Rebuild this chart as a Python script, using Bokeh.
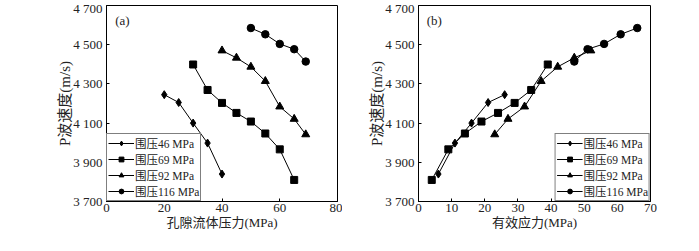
from bokeh.plotting import figure
from bokeh.layouts import row
from bokeh.models import FixedTicker, Range1d, Label, Legend
from bokeh.embed import file_html
from bokeh.resources import INLINE

# ---- data ----
series_names = ["围压46 MPa", "围压69 MPa", "围压92 MPa", "围压116 MPa"]
markers = ["diamond", "square", "triangle", "circle"]
marker_sizes = [8, 7, 8, 7.5]

pore_46 = [20, 25, 30, 35, 40]
vel_46 = [4245, 4205, 4100, 3998, 3840]
eff_46 = [26, 21, 16, 11, 6]

pore_69 = [30, 35, 40, 45, 50, 55, 60, 65]
vel_69 = [4399, 4269, 4203, 4152, 4108, 4047, 3966, 3810]
eff_69 = [39, 34, 29, 24, 19, 14, 9, 4]

pore_92 = [40, 45, 50, 55, 60, 65, 69]
vel_92 = [4470, 4433, 4387, 4314, 4184, 4121, 4042]
eff_92 = [52, 47, 42, 37, 32, 27, 23]

pore_116 = [50, 55, 60, 65, 69]
vel_116 = [4585, 4553, 4504, 4477, 4414]
eff_116 = [66, 61, 56, 51, 47]

y_ticks = [3700, 3900, 4100, 4300, 4500, 4700]
y_tick_labels = {3700: "3 700", 3900: "3 900", 4100: "4 100", 4300: "4 300", 4500: "4 500", 4700: "4 700"}
xa_ticks = [0, 20, 40, 60, 80]
xb_ticks = [0, 10, 20, 30, 40, 50, 60, 70]

FONT = "Liberation Serif, Noto Sans CJK SC"
LATIN = "Liberation Serif"


def make_fig(width, bl, br, xmax, xticks, xlabel, tag, xs_list, legend_loc, tag_x):
    p = figure(width=width, height=235, output_backend="svg", toolbar_location=None,
               x_range=Range1d(0, xmax), y_range=Range1d(3700, 4700),
               min_border_left=bl, min_border_right=br, min_border_top=5, min_border_bottom=34)
    p.xgrid.visible = False
    p.ygrid.visible = False
    p.outline_line_color = "black"
    p.outline_line_width = 1
    p.background_fill_color = "white"
    p.border_fill_color = "white"
    for ax in (p.xaxis[0], p.yaxis[0]):
        ax.axis_line_color = "black"
        ax.major_tick_in = 3
        ax.major_tick_out = 0
        ax.minor_tick_in = 0
        ax.minor_tick_out = 0
        ax.major_label_text_font = LATIN
        ax.major_label_text_font_size = "13px"
        ax.major_label_text_color = "#222222"
        ax.axis_label_text_font = FONT
        ax.axis_label_text_font_style = "normal"
        ax.axis_label_text_color = "#222222"
    p.xaxis.axis_label_text_font_size = "13px"
    p.yaxis.axis_label_text_font_size = "15px"
    p.xaxis.ticker = FixedTicker(ticks=xticks)
    p.yaxis.ticker = FixedTicker(ticks=y_ticks)
    p.yaxis.major_label_overrides = y_tick_labels
    p.xaxis.major_label_standoff = 2
    p.yaxis.major_label_standoff = 4
    p.xaxis.axis_label_standoff = 0
    p.yaxis.axis_label_standoff = -3
    p.xaxis.axis_label = xlabel
    p.yaxis.axis_label = "P波速度(m/s)"

    vels = [vel_46, vel_69, vel_92, vel_116]
    items = []
    for name, mk, ms, xs, ys in zip(series_names, markers, marker_sizes, xs_list, vels):
        l = p.line(xs, ys, line_color="black", line_width=1)
        s = p.scatter(xs, ys, marker=mk, size=ms, fill_color="black", line_color="black")
        items.append((name, [l, s]))
    leg = Legend(items=items, location=legend_loc)
    leg.margin = 0
    leg.padding = 1
    leg.spacing = -7
    leg.glyph_width = 26
    leg.glyph_height = 12
    leg.label_height = 12
    leg.label_standoff = 1
    leg.label_text_font = FONT
    leg.label_text_font_size = "11.5px"
    leg.label_text_line_height = 1.0
    leg.label_text_color = "#222222"
    leg.border_line_color = "black"
    leg.border_line_width = 1
    leg.background_fill_color = "white"
    leg.background_fill_alpha = 1
    p.add_layout(leg, "center")

    p.add_layout(Label(x=tag_x, y=4625, text=tag, text_font=FONT, text_font_size="13px",
                       text_baseline="middle", text_color="#222222"))
    return p


pa = make_fig(342, 106, 5, 80, xa_ticks, "孔隙流体压力(MPa)", "(a)",
              [pore_46, pore_69, pore_92, pore_116], "bottom_left", 3)
pb = make_fig(341, 76, 33, 70, xb_ticks, "有效应力(MPa)", "(b)",
              [eff_46, eff_69, eff_92, eff_116], "bottom_right", 2.5)

layout = row(pa, pb)
open("out.html", "w").write(file_html(layout, INLINE))
